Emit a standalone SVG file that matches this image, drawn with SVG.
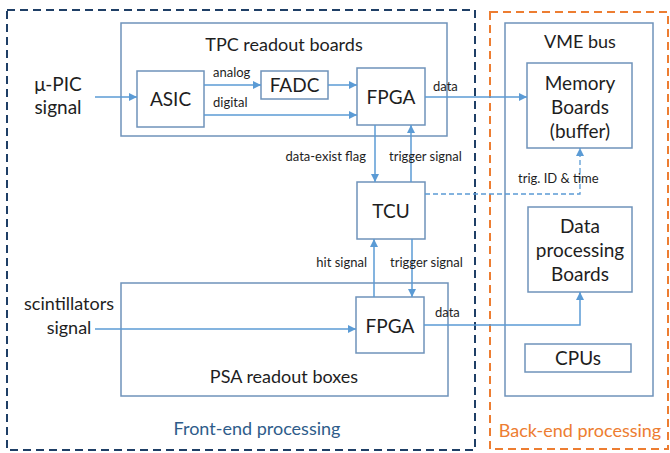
<svg xmlns="http://www.w3.org/2000/svg" width="670" height="453" viewBox="0 0 670 453">
<defs>
<marker id="ah" viewBox="0 0 10 10" refX="10" refY="5" markerWidth="8" markerHeight="8" markerUnits="userSpaceOnUse" orient="auto">
<path d="M0,0 L10,5 L0,10 z" fill="#5B9BD5"/>
</marker>
</defs>
<style>
.box{fill:#fff;stroke:#6F93BA;stroke-width:1.5}
.cont{fill:none;stroke:#6F93BA;stroke-width:1.5}
.ln{fill:none;stroke:#5B9BD5;stroke-width:1.5;marker-end:url(#ah)}
.dash{fill:none;stroke:#5B9BD5;stroke-width:1.3;stroke-dasharray:5 3;marker-end:url(#ah)}
text{font-family:Lato,"Liberation Sans",sans-serif;fill:#1e1e1e}
.big{font-size:18px;text-anchor:middle}
.bx{font-size:19px;text-anchor:middle}
.sm{font-size:13px}
</style>
<rect width="670" height="453" fill="#fff"/>
<g id="frontend">
<rect x="7" y="10" width="468" height="440" fill="none" stroke="#1F3F66" stroke-width="2" stroke-dasharray="8 5"/>
<text x="257" y="435" class="big" style="fill:#2E5C8A">Front-end processing</text>
</g>
<g id="backend">
<rect x="490" y="12" width="178" height="437" fill="none" stroke="#ED7D31" stroke-width="2" stroke-dasharray="8 5"/>
<text x="580" y="437" class="big" style="fill:#ED7D31">Back-end processing</text>
</g>
<g id="tpc">
<rect x="121" y="23" width="326" height="113" class="cont"/>
<text x="284" y="51" class="big">TPC readout boards</text>
</g>
<g id="psa">
<rect x="121" y="283" width="327" height="113" class="cont"/>
<text x="284" y="383" class="big">PSA readout boxes</text>
</g>
<g id="vme">
<rect x="505" y="23" width="148" height="373" class="cont"/>
<text x="580" y="48" class="big">VME bus</text>
</g>
<g id="mupic">
<text x="58" y="91" class="bx">μ-PIC</text>
<text x="58" y="114" class="bx">signal</text>
</g>
<g id="scint">
<text x="69" y="310" class="big">scintillators</text>
<text x="69" y="334" class="big">signal</text>
</g>
<g id="asic">
<rect x="137" y="71" width="67" height="56" class="box"/>
<text x="170.5" y="106" class="bx">ASIC</text>
</g>
<g id="fadc">
<rect x="261" y="71" width="67" height="28" class="box"/>
<text x="294.5" y="92" class="bx">FADC</text>
</g>
<g id="fpga1">
<rect x="357" y="68" width="68" height="57" class="box"/>
<text x="391" y="103.5" class="bx">FPGA</text>
</g>
<g id="tcu">
<rect x="357" y="182" width="68" height="57" class="box"/>
<text x="391" y="217.5" class="bx">TCU</text>
</g>
<g id="fpga2">
<rect x="356" y="297" width="68" height="56" class="box"/>
<text x="390" y="332.5" class="bx">FPGA</text>
</g>
<g id="memory">
<rect x="527" y="63" width="105" height="85" class="box"/>
<text x="580" y="90" class="bx">Memory</text>
<text x="580" y="114" class="bx">Boards</text>
<text x="580" y="138" class="bx">(buffer)</text>
</g>
<g id="dataproc">
<rect x="528" y="207" width="104" height="85" class="box"/>
<text x="580" y="233" class="bx">Data</text>
<text x="580" y="257" class="bx">processing</text>
<text x="580" y="281" class="bx">Boards</text>
</g>
<g id="cpus">
<rect x="525" y="344" width="106" height="28" class="box"/>
<text x="578" y="365" class="bx">CPUs</text>
</g>
<g id="connectors">
<path d="M95,97 H137" class="ln"/>
<path d="M204,85 H261" class="ln"/>
<path d="M328,85 H357" class="ln"/>
<path d="M204,115 H357" class="ln"/>
<path d="M425,97 H527" class="ln"/>
<path d="M375,125 V182" class="ln"/>
<path d="M411,182 V125" class="ln"/>
<path d="M374,297 V239" class="ln"/>
<path d="M412,239 V297" class="ln"/>
<path d="M425,194 H580 V148" class="dash"/>
<path d="M95,329 H356" class="ln"/>
<path d="M424,325 H580 V292" class="ln"/>
<text x="213" y="77" class="sm">analog</text>
<text x="213" y="107" class="sm">digital</text>
<text x="433" y="91" class="sm">data</text>
<text x="366" y="161" class="sm" text-anchor="end">data-exist flag</text>
<text x="389" y="161" class="sm">trigger signal</text>
<text x="367" y="267" class="sm" text-anchor="end">hit signal</text>
<text x="390" y="267" class="sm">trigger signal</text>
<text x="518" y="183" class="sm">trig. ID &amp; time</text>
<text x="435" y="317" class="sm">data</text>
</g>
</svg>
